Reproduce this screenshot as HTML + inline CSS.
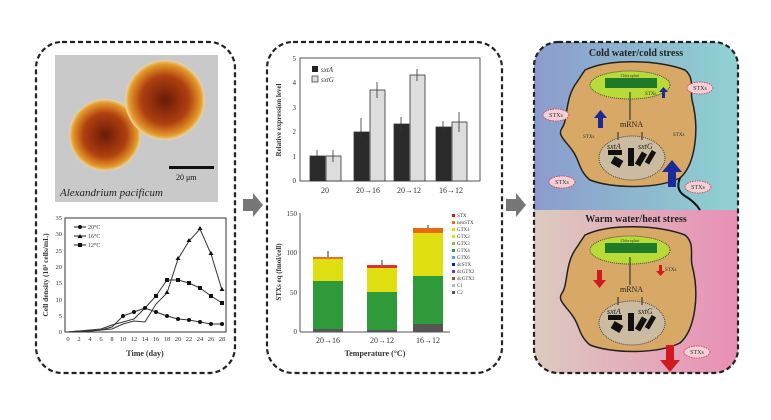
<!DOCTYPE html>
<html><head><meta charset="utf-8"><style>
html,body{margin:0;padding:0;background:#fff}
svg{display:block}
text{font-family:"Liberation Serif",serif}
</style></head><body>
<svg width="771" height="420" viewBox="0 0 771 420" xmlns="http://www.w3.org/2000/svg">
<defs>
<linearGradient id="gc" x1="0" x2="1"><stop offset="0" stop-color="#8b9bcc"/><stop offset="1" stop-color="#8fd2d2"/></linearGradient>
<linearGradient id="gw" x1="0" x2="1"><stop offset="0" stop-color="#dccbbf"/><stop offset="1" stop-color="#e98fb6"/></linearGradient>
<radialGradient id="cell" cx="0.5" cy="0.5" r="0.5"><stop offset="0" stop-color="#6a1a08"/><stop offset="0.6" stop-color="#b0400f"/><stop offset="0.9" stop-color="#e59a2a"/><stop offset="1" stop-color="#e8d8a8"/></radialGradient>
</defs>
<rect width="771" height="420" fill="#fff"/>
<!-- Panel 1 -->
<rect x="36" y="42" width="199" height="331" rx="26" fill="none" stroke="#222" stroke-width="2.2" stroke-dasharray="5,3"/>
<rect x="55" y="55" width="163" height="147" fill="#c9c9ca"/>
<circle cx="105" cy="135" r="36" fill="url(#cell)"/>
<circle cx="165" cy="100" r="40" fill="url(#cell)"/>
<rect x="169" y="166" width="45" height="3" fill="#111"/>
<text x="176" y="180" font-size="8" fill="#111">20 μm</text>
<text x="60" y="196" font-size="11" font-style="italic" fill="#222">Alexandrium pacificum</text>
<g stroke="#333" fill="none" stroke-width="1">
<rect x="65" y="218" width="161" height="114"/>
</g>
<g font-size="6.5" fill="#333" text-anchor="end">
<text x="62" y="334">0</text><text x="62" y="318">5</text><text x="62" y="302">10</text><text x="62" y="285">15</text><text x="62" y="269">20</text><text x="62" y="253">25</text><text x="62" y="236">30</text><text x="62" y="220">35</text>
</g>
<g font-size="6.5" fill="#333" text-anchor="middle">
<text x="68" y="341">0</text><text x="79" y="341">2</text><text x="90" y="341">4</text><text x="101" y="341">6</text><text x="112" y="341">8</text><text x="123" y="341">10</text><text x="134" y="341">12</text><text x="145" y="341">14</text><text x="156" y="341">16</text><text x="167" y="341">18</text><text x="178" y="341">20</text><text x="189" y="341">22</text><text x="200" y="341">24</text><text x="211" y="341">26</text><text x="222" y="341">28</text>
</g>
<text x="145" y="356" font-size="8" font-weight="bold" text-anchor="middle" fill="#333">Time (day)</text>
<text transform="translate(48,275) rotate(-90)" font-size="7.5" font-weight="bold" text-anchor="middle" fill="#333">Cell density (10³ cells/mL)</text>
<g font-size="6" fill="#333"><text x="88" y="229">20°C</text><text x="88" y="238">16°C</text><text x="88" y="247">12°C</text></g>
<g stroke="#222" stroke-width="1"><line x1="74" y1="227" x2="86" y2="227"/><line x1="74" y1="236" x2="86" y2="236"/><line x1="74" y1="245" x2="86" y2="245"/></g>
<circle cx="80" cy="227" r="2" fill="#111"/><path d="M80,234 l2.5,4 h-5z" fill="#111"/><rect x="78" y="243" width="4" height="4" fill="#111"/>
<polyline fill="none" stroke="#333" stroke-width="1" points="68,332 79,331 90,331 101,330 112,327 123,316 134,312 145,308 156,312 167,316 178,319 189,320 200,322 211,324 222,324"/>
<polyline fill="none" stroke="#333" stroke-width="1" points="68,332 79,331 90,331 101,330 112,329 123,324 134,321 145,322 156,304 167,293 178,259 189,241 200,229 211,254 222,290"/>
<polyline fill="none" stroke="#333" stroke-width="1" points="68,332 79,331 90,330 101,329 112,325 123,322 134,319 145,308 156,296 167,280 178,280 189,283 200,288 211,296 222,303"/>
<g fill="#111">
<circle cx="123" cy="316" r="2"/><circle cx="134" cy="312" r="2"/><circle cx="145" cy="308" r="2"/><circle cx="156" cy="312" r="2"/><circle cx="167" cy="316" r="2"/><circle cx="178" cy="319" r="2"/><circle cx="189" cy="320" r="2"/><circle cx="200" cy="322" r="2"/><circle cx="211" cy="324" r="2"/><circle cx="222" cy="324" r="2"/>
<rect x="154" y="294" width="4" height="4"/><rect x="165" y="278" width="4" height="4"/><rect x="176" y="278" width="4" height="4"/><rect x="187" y="281" width="4" height="4"/><rect x="198" y="286" width="4" height="4"/><rect x="209" y="294" width="4" height="4"/><rect x="220" y="301" width="4" height="4"/>
<path d="M178,256 l2.5,4 h-5z M189,238 l2.5,4 h-5z M200,226 l2.5,4 h-5z M211,251 l2.5,4 h-5z M222,287 l2.5,4 h-5z M167,290 l2.5,4 h-5z"/>
</g>
<!-- arrows -->
<path d="M243,199 h10 v-6 l10,12 l-10,12 v-6 h-10z" fill="#777"/>
<path d="M506,199 h10 v-6 l10,12 l-10,12 v-6 h-10z" fill="#777"/>
<!-- Panel 2 -->
<rect x="267" y="42" width="235" height="331" rx="26" fill="none" stroke="#222" stroke-width="2.2" stroke-dasharray="5,3"/>
<rect x="300" y="58" width="180" height="123" fill="none" stroke="#555" stroke-width="1"/>
<g font-size="7" fill="#333" text-anchor="end"><text x="296" y="183">0</text><text x="296" y="159">1</text><text x="296" y="134">2</text><text x="296" y="110">3</text><text x="296" y="85">4</text><text x="296" y="61">5</text></g>
<text transform="translate(281,120) rotate(-90)" font-size="7" font-weight="bold" text-anchor="middle" fill="#333">Relative expression level</text>
<rect x="312" y="66" width="6" height="6" fill="#222"/><rect x="312" y="76" width="6" height="6" fill="#ddd" stroke="#333" stroke-width=".7"/>
<text x="321" y="72" font-size="7" font-style="italic" fill="#333">sxtA</text><text x="321" y="82" font-size="7" font-style="italic" fill="#333">sxtG</text>
<g stroke="#333" stroke-width=".8">
<rect x="310" y="156" width="15" height="25" fill="#2a2a2a"/><rect x="326" y="156" width="15" height="25" fill="#ddd"/>
<rect x="354" y="132" width="15" height="49" fill="#2a2a2a"/><rect x="370" y="90" width="15" height="91" fill="#ddd"/>
<rect x="394" y="124" width="15" height="57" fill="#2a2a2a"/><rect x="410" y="75" width="15" height="106" fill="#ddd"/>
<rect x="436" y="127" width="15" height="54" fill="#2a2a2a"/><rect x="452" y="122" width="15" height="59" fill="#ddd"/>
<path d="M317,150v12M333,150v12M361,118v20M377,82v16M401,117v14M417,69v12M443,121v10M459,112v20" fill="none"/>
</g>
<g font-size="8" fill="#333" text-anchor="middle"><text x="325" y="193">20</text><text x="368" y="193">20→16</text><text x="409" y="193">20→12</text><text x="451" y="193">16→12</text></g>
<line x1="300" y1="213" x2="300" y2="332" stroke="#555"/><line x1="300" y1="332" x2="450" y2="332" stroke="#555"/>
<g font-size="7" fill="#333" text-anchor="end"><text x="297" y="334">0</text><text x="297" y="295">50</text><text x="297" y="255">100</text><text x="297" y="216">150</text></g>
<text transform="translate(281,272) rotate(-90)" font-size="7" font-weight="bold" text-anchor="middle" fill="#333">STXs eq (fmol/cell)</text>
<g>
<rect x="313" y="329" width="30" height="3" fill="#555"/><rect x="313" y="281" width="30" height="48" fill="#2e9a3a"/><rect x="313" y="258" width="30" height="23" fill="#dede10"/><rect x="313" y="257" width="30" height="2" fill="#f07020"/>
<rect x="367" y="330" width="30" height="2" fill="#555"/><rect x="367" y="292" width="30" height="38" fill="#2e9a3a"/><rect x="367" y="268" width="30" height="24" fill="#dede10"/><rect x="367" y="265" width="30" height="3" fill="#e03030"/>
<rect x="413" y="324" width="30" height="8" fill="#555"/><rect x="413" y="276" width="30" height="48" fill="#2e9a3a"/><rect x="413" y="233" width="30" height="43" fill="#dede10"/><rect x="413" y="228" width="30" height="5" fill="#e86a10"/>
</g>
<path d="M328,257v-6M382,265v-5M428,228v-3" stroke="#333"/>
<g font-size="8" fill="#333" text-anchor="middle"><text x="328" y="343">20→16</text><text x="382" y="343">20→12</text><text x="428" y="343">16→12</text></g>
<text x="375" y="356" font-size="8" font-weight="bold" text-anchor="middle" fill="#333">Temperature (°C)</text>
<g font-size="5" fill="#333">
<rect x="452" y="214" width="3" height="3" fill="#e01010"/><text x="457" y="217">STX</text>
<rect x="452" y="221" width="3" height="3" fill="#f07010"/><text x="457" y="224">neoSTX</text>
<rect x="452" y="228" width="3" height="3" fill="#f6d800"/><text x="457" y="231">GTX1</text>
<rect x="452" y="235" width="3" height="3" fill="#d8e010"/><text x="457" y="238">GTX2</text>
<rect x="452" y="242" width="3" height="3" fill="#88c030"/><text x="457" y="245">GTX3</text>
<rect x="452" y="249" width="3" height="3" fill="#2e9a3a"/><text x="457" y="252">GTX4</text>
<rect x="452" y="256" width="3" height="3" fill="#40b0e0"/><text x="457" y="259">GTX6</text>
<rect x="452" y="263" width="3" height="3" fill="#102090"/><text x="457" y="266">dcSTX</text>
<rect x="452" y="270" width="3" height="3" fill="#8030a0"/><text x="457" y="273">dcGTX2</text>
<rect x="452" y="277" width="3" height="3" fill="#905030"/><text x="457" y="280">dcGTX3</text>
<rect x="452" y="284" width="3" height="3" fill="#bbb"/><text x="457" y="287">C1</text>
<rect x="452" y="291" width="3" height="3" fill="#555"/><text x="457" y="294">C2</text>
</g>
<!-- Panel 3 -->
<clipPath id="p3"><rect x="534" y="42" width="204" height="331" rx="24"/></clipPath>
<g clip-path="url(#p3)">
<rect x="534" y="42" width="204" height="168" fill="url(#gc)"/>
<rect x="534" y="210" width="204" height="163" fill="url(#gw)"/>
</g>
<rect x="534" y="42" width="204" height="331" rx="24" fill="none" stroke="#222" stroke-width="2.2" stroke-dasharray="5,3"/>
<text x="636" y="56" font-size="10" font-weight="bold" text-anchor="middle" fill="#222">Cold water/cold stress</text>
<text x="636" y="222" font-size="10" font-weight="bold" text-anchor="middle" fill="#222">Warm water/heat stress</text>
<g id="c1">
<path d="M585,70 C610,58 660,60 685,70 C695,78 690,90 692,100 C700,130 695,165 680,178 C655,190 610,188 590,180 C578,170 580,160 572,150 C565,140 557,135 562,128 C568,120 565,100 575,85 Z" fill="#d7a866" stroke="#222" stroke-width="1.5"/>
<ellipse cx="630" cy="85" rx="40" ry="14" fill="#b9db38" stroke="#444" stroke-dasharray="1,1"/>
<rect x="605" y="78" width="52" height="10" fill="#1f7a2a"/>
<text x="630" y="77" font-size="4" text-anchor="middle" fill="#333">Chloroplast</text>
<ellipse cx="632" cy="158" rx="33" ry="22" fill="#cbbba0" stroke="#444" stroke-dasharray="1,1"/>
<g fill="#111"><rect x="608" y="150" width="14" height="5"/><rect x="612" y="158" width="10" height="8" transform="rotate(30 617 162)"/><rect x="628" y="148" width="6" height="18"/><rect x="638" y="152" width="6" height="14" transform="rotate(30 641 159)"/><rect x="648" y="150" width="5" height="14" transform="rotate(30 650 157)"/></g>
<text x="607" y="149" font-size="8" font-style="italic" fill="#222">sxtA</text><text x="638" y="149" font-size="8" font-style="italic" fill="#222">sxtG</text>
<text x="620" y="127" font-size="8" fill="#222">mRNA</text>
<path d="M630,92v28M618,140v-8M642,140v-8" stroke="#222"/>
</g>
<use href="#c1" transform="translate(0,165)"/>
<path d="M598,128 h5 v-10 h4 l-6.5,-8 l-6.5,8 h4z" fill="#1a2a9a"/>
<path d="M668,187 h8 v-15 h6 l-10,-12 l-10,12 h6z" fill="#1a2a9a"/>
<path d="M662,98 h3 v-6 h3 l-4.5,-5 l-4.5,5 h3z" fill="#1a2a9a"/>
<path d="M597,270 h5 v10 h4 l-6.5,8 l-6.5,-8 h4z" fill="#d01a20"/>
<path d="M666,345 h8 v15 h6 l-10,12 l-10,-12 h6z" fill="#d01a20"/>
<path d="M659,265 h3 v6 h3 l-4.5,5 l-4.5,-5 h3z" fill="#d01a20"/>
<g font-size="5" fill="#333"><text x="645" y="95">STXs</text><text x="583" y="138">STXs</text><text x="673" y="136">STXs</text><text x="665" y="271">STXs</text></g>
<g fill="#f3d0d8" stroke="#d03040" stroke-width=".8" stroke-dasharray="1.5,1">
<ellipse cx="700" cy="88" rx="13" ry="6"/><ellipse cx="556" cy="115" rx="13" ry="6"/><ellipse cx="562" cy="182" rx="13" ry="6"/><ellipse cx="698" cy="187" rx="13" ry="6"/><ellipse cx="697" cy="352" rx="13" ry="6"/>
</g>
<g font-size="6" fill="#333" text-anchor="middle"><text x="700" y="90">STXs</text><text x="556" y="117">STXs</text><text x="562" y="184">STXs</text><text x="698" y="189">STXs</text><text x="697" y="354">STXs</text></g>
<path d="M680,178 q-5,12 5,18 q10,6 15,14" stroke="#111" stroke-width="2" fill="none"/>
</svg>
</body></html>
